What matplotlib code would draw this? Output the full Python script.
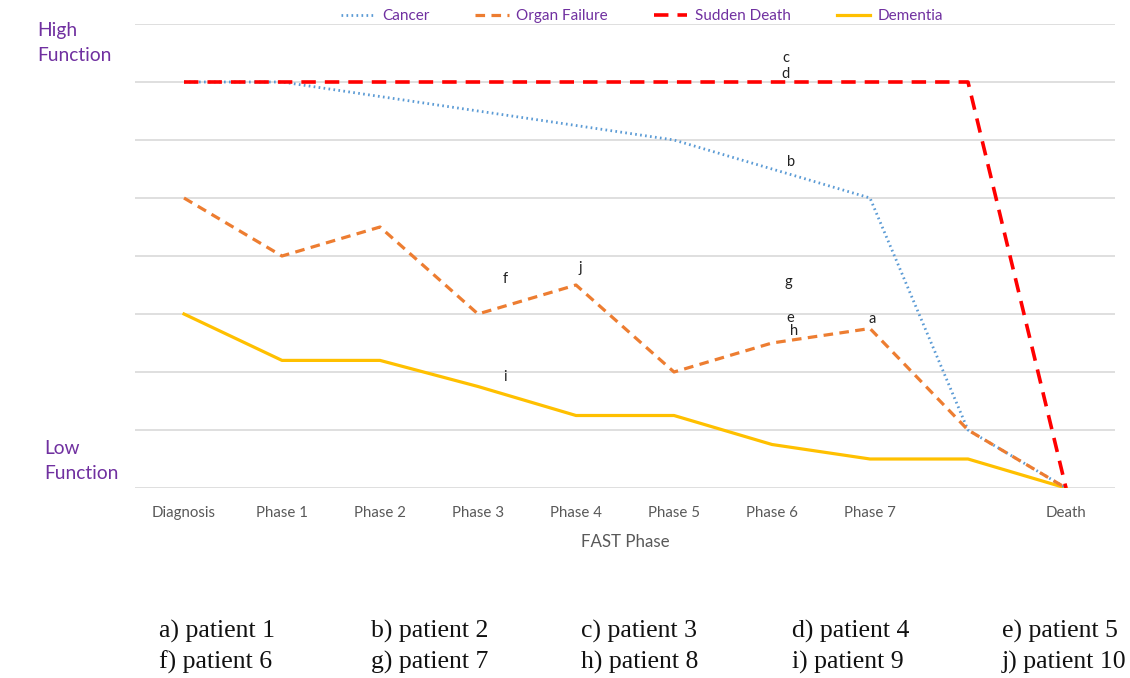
import matplotlib
matplotlib.use("Agg")
import matplotlib.pyplot as plt
from matplotlib.lines import Line2D

categories = ["Diagnosis", "Phase 1", "Phase 2", "Phase 3", "Phase 4", "Phase 5",
              "Phase 6", "Phase 7", "", "Death"]
cancer = [7, 7, 6.75, 6.5, 6.25, 6, 5.5, 5, 1, 0]
organ_failure = [5, 4, 4.5, 3, 3.5, 2, 2.5, 2.75, 1, 0]
sudden_death = [7, 7, 7, 7, 7, 7, 7, 7, 7, 0]
dementia = [3, 2.2, 2.2, 1.75, 1.25, 1.25, 0.75, 0.5, 0.5, 0]

letters = ["c", "d", "b", "f", "j", "g", "e", "h", "a", "i"]
letter_x = [6.14, 6.14, 6.19, 3.28, 4.04, 6.17, 6.19, 6.23, 7.02, 3.28]
letter_y = [7.41, 7.14, 5.62, 3.60, 3.79, 3.55, 2.93, 2.71, 2.91, 1.91]

patients = ["a) patient 1", "b) patient 2", "c) patient 3", "d) patient 4", "e) patient 5",
            "f) patient 6", "g) patient 7", "h) patient 8", "i) patient 9", "j) patient 10"]

purple = "#7030A0"
gray = "#595959"
sans = ["Lato", "DejaVu Sans"]

fig = plt.figure(figsize=(11.3, 6.78), dpi=100)
ax = fig.add_axes([135/1130, 1-488/678, 980/1130, 464/678])
x = list(range(len(categories)))

ax.plot(x, cancer, color="#5B9BD5", linestyle=(0, (0.6, 1.2)), linewidth=2.0, zorder=3)
ax.plot(x, organ_failure, color="#ED7D31", linestyle=(0, (3, 2)), linewidth=2.3, zorder=3)
ax.plot(x, sudden_death, color="#FF0000", linestyle=(0, (4, 2.5)), linewidth=2.6, zorder=4)
ax.plot(x, dementia, color="#FFC000", linestyle="-", linewidth=2.3, zorder=2)

ax.set_xlim(-0.5, len(categories) - 0.5)
ax.set_ylim(0, 8)
ax.set_yticks(range(0, 9))
ax.set_yticklabels([])
ax.tick_params(axis="y", length=0)
ax.grid(axis="y", color="#d9d9d9", linewidth=1.2)
ax.set_axisbelow(True)
for s in ["top", "right", "left", "bottom"]:
    ax.spines[s].set_visible(False)
ax.set_xticks(x)
ax.set_xticklabels(categories, fontsize=10.8, color=gray, family=sans)
ax.tick_params(axis="x", length=0, pad=13)
ax.set_xlabel("FAST Phase", fontsize=12.2, color=gray, family=sans, labelpad=10)

for t, lx, ly in zip(letters, letter_x, letter_y):
    ax.text(lx, ly, t, fontsize=10.5, color="#222222", family=sans, ha="center", va="center")

handles = [
    Line2D([], [], color="#5B9BD5", linestyle=(0, (0.6, 1.2)), linewidth=2.0),
    Line2D([], [], color="#ED7D31", linestyle=(0, (3, 2)), linewidth=2.3),
    Line2D([], [], color="#FF0000", linestyle=(0, (4, 2.5)), linewidth=2.6),
    Line2D([], [], color="#FFC000", linestyle="-", linewidth=2.3),
]
leg = fig.legend(handles, ["Cancer", "Organ Failure", "Sudden Death", "Dementia"],
                 loc="center", bbox_to_anchor=(642/1130, 1-16/678), ncol=4, frameon=False,
                 prop={"family": sans, "size": 11}, handlelength=2.2, columnspacing=3.0,
                 handletextpad=0.5)
for t in leg.get_texts():
    t.set_color(purple)

fig.text(37/1130, 1-43/678, "High\nFunction", fontsize=13.8, color=purple, family=sans,
         va="center", ha="left", linespacing=1.55)
fig.text(44/1130, 1-461/678, "Low\nFunction", fontsize=13.8, color=purple, family=sans,
         va="center", ha="left", linespacing=1.55)

col_x = [159, 371, 581, 792, 1002]
row_y = [631, 662]
for i, p in enumerate(patients):
    fig.text(col_x[i % 5]/1130, 1-row_y[i // 5]/678, p, fontsize=18.5,
             family=["Liberation Serif", "DejaVu Serif"], color="#111111", va="center", ha="left")

fig.savefig("out.png", dpi=100, facecolor="white")
